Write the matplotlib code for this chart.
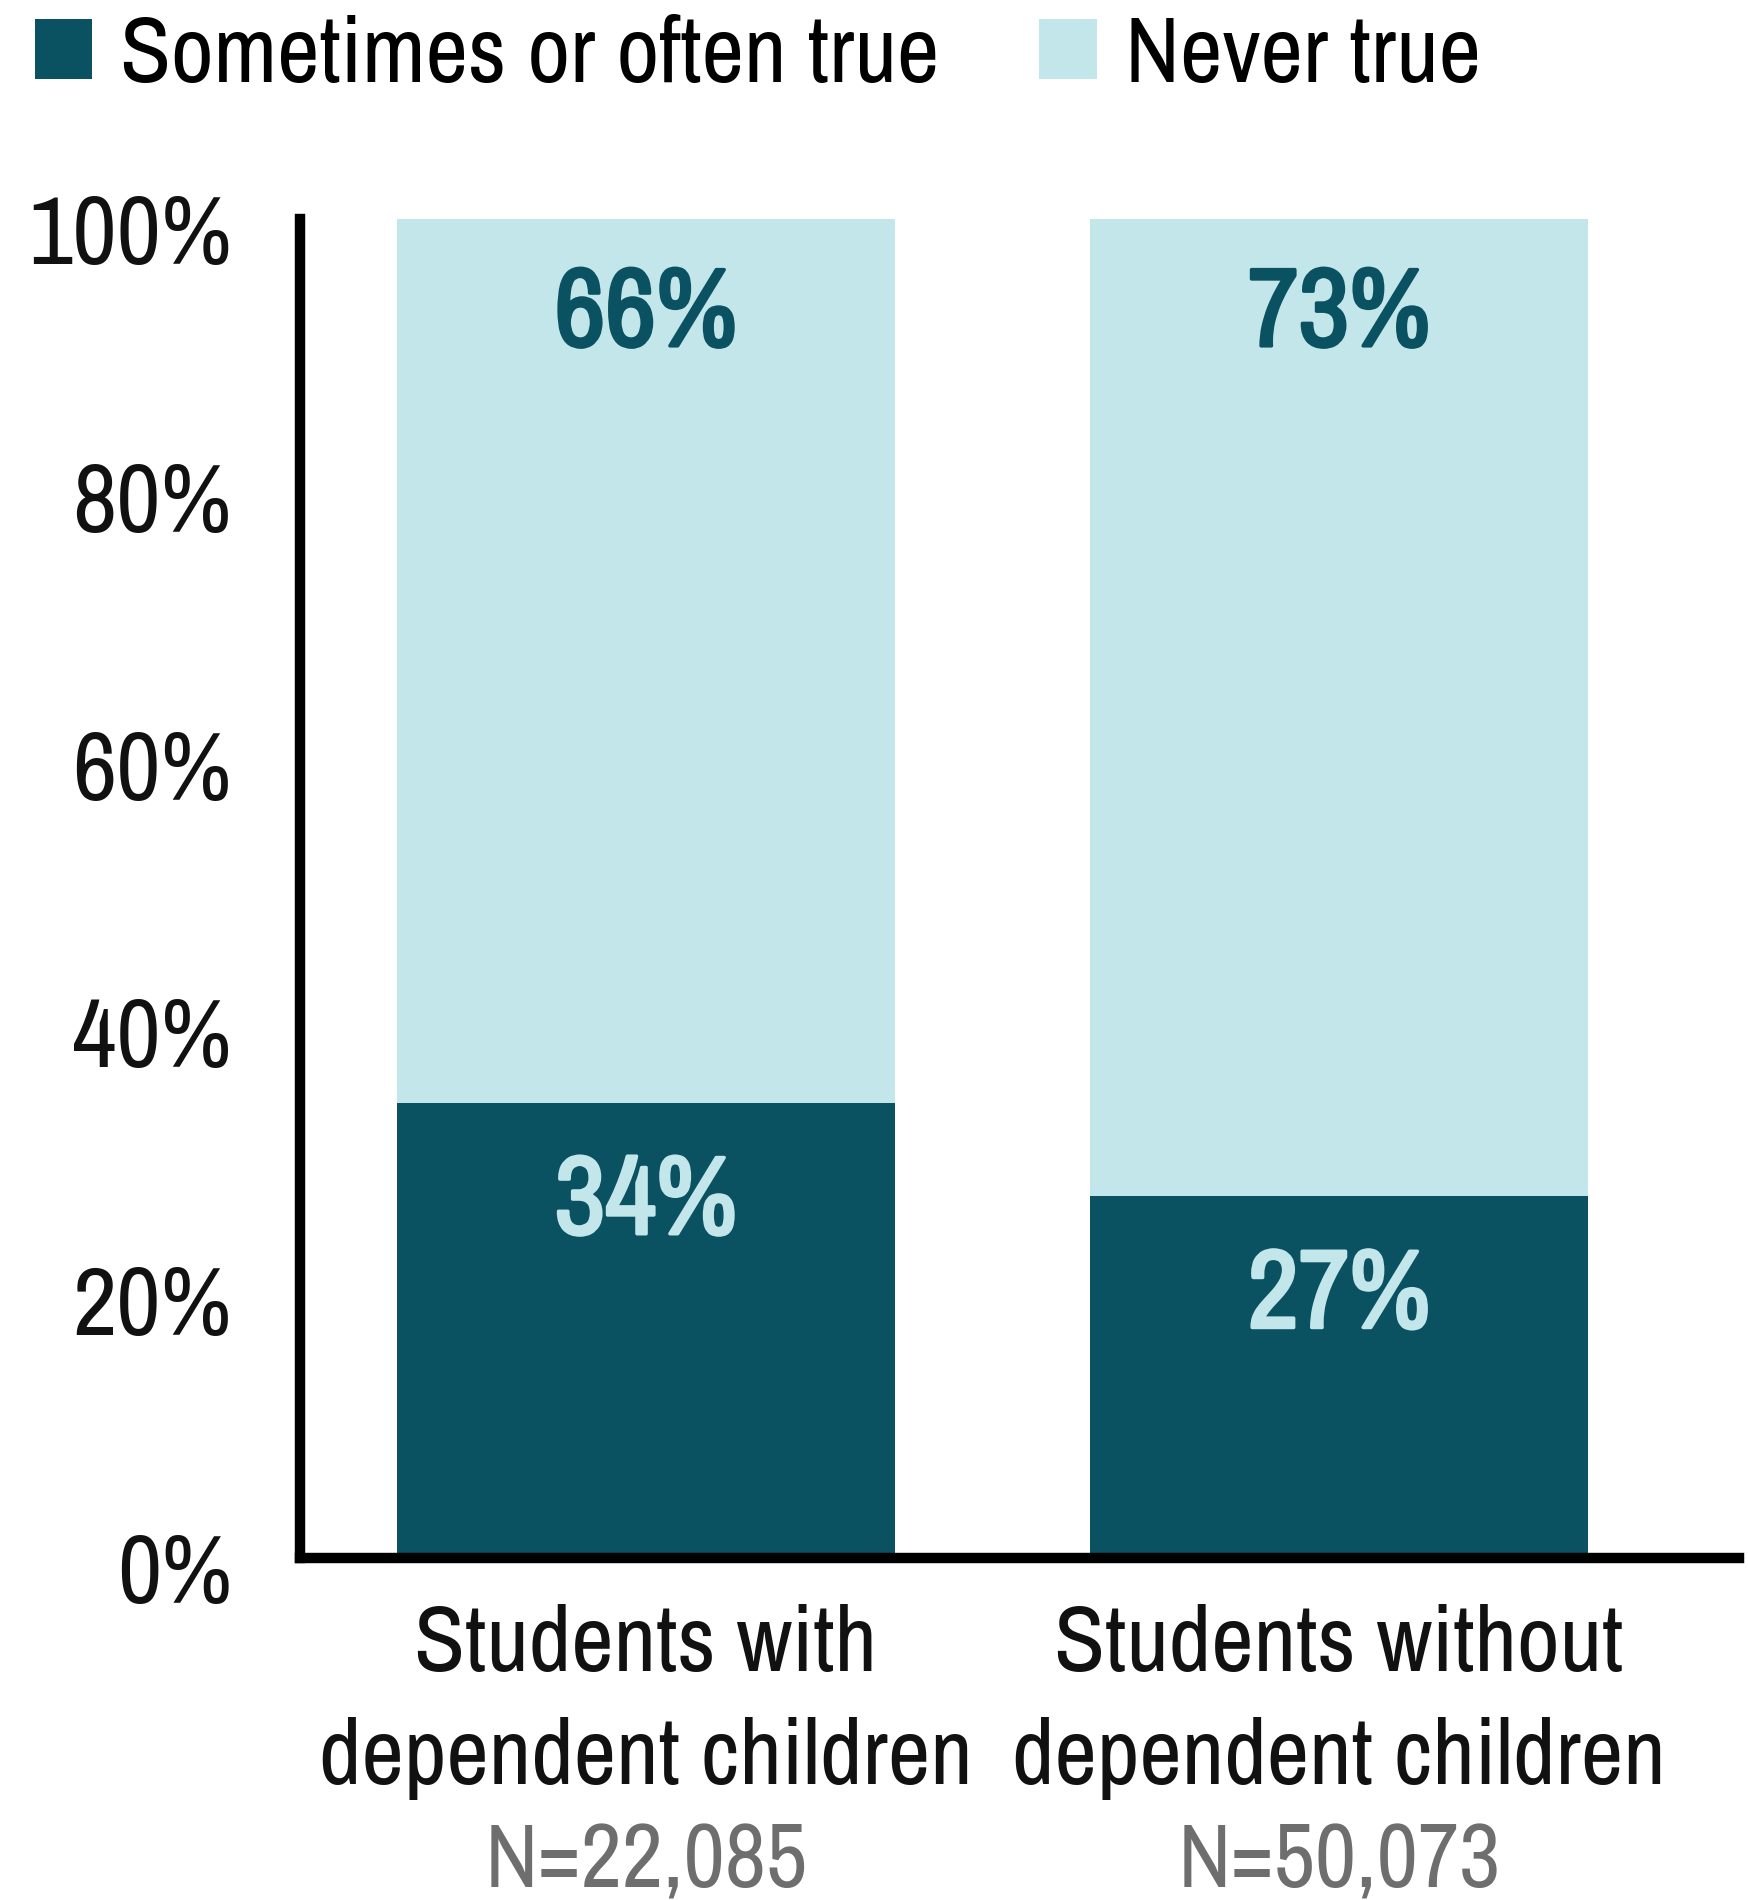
import matplotlib
matplotlib.use("Agg")
import matplotlib.pyplot as plt
from matplotlib.patches import Patch
from matplotlib.transforms import ScaledTranslation
import matplotlib.patheffects as pe

FONT = ['Archivo Narrow', 'DejaVu Sans']
plt.rcParams['font.family'] = FONT

categories = ["Students with\ndependent children", "Students without\ndependent children"]
sample_sizes = ["N=22,085", "N=50,073"]
sometimes_often = [34, 27]
never_true = [66, 73]
series_names = ["Sometimes or often true", "Never true"]
yticks = [0, 20, 40, 60, 80, 100]
ytick_labels = ["0%", "20%", "40%", "60%", "80%", "100%"]

DARK = "#0A5262"
LIGHT = "#C3E6EA"
TXT = "#111111"

fig = plt.figure(figsize=(17.49, 19), dpi=100)
ax = fig.add_axes([300/1749, 1 - 1558/1900, (1739-300)/1749, (1558-219)/1900])

x = list(range(len(categories)))
w = 0.719
ax.bar(x, sometimes_often, width=w, color=DARK, zorder=1)
ax.bar(x, never_true, width=w, bottom=sometimes_often, color=LIGHT, zorder=1)

for i in x:
    top1 = sometimes_often[i]
    ax.annotate(f"{sometimes_often[i]}%", xy=(i, top1), xytext=(0, -72),
                textcoords="offset points", ha="center", va="center",
                fontsize=80, fontweight="bold", color=LIGHT,
                path_effects=[pe.withStroke(linewidth=2.5, foreground=LIGHT)])
    top2 = sometimes_often[i] + never_true[i]
    ax.annotate(f"{never_true[i]}%", xy=(i, top2), xytext=(0, -69),
                textcoords="offset points", ha="center", va="center",
                fontsize=80, fontweight="bold", color=DARK,
                path_effects=[pe.withStroke(linewidth=2.5, foreground=DARK)])
    ax.annotate(sample_sizes[i], xy=(i, 0), xycoords=("data", "axes fraction"),
                xytext=(0, -237.5), textcoords="offset points", ha="center",
                va="baseline", fontsize=65, color="#6E6E6E", annotation_clip=False)

ax.set_xlim(-0.499, 1.577)
ax.set_ylim(0, 100)
ax.set_yticks(yticks)
ax.set_yticklabels(ytick_labels, fontsize=70, color=TXT)
ax.set_xticks(x)
ax.set_xticklabels(categories, fontsize=67, color=TXT, linespacing=1.45)
ax.tick_params(axis="y", length=0, pad=49)
ax.tick_params(axis="x", length=0, pad=33)
for lab in ax.get_yticklabels():
    lab.set_transform(lab.get_transform() + ScaledTranslation(0, -0.10, fig.dpi_scale_trans))

for s in ["top", "right"]:
    ax.spines[s].set_visible(False)
for s in ["left", "bottom"]:
    ax.spines[s].set_linewidth(7.5)
    ax.spines[s].set_color("black")
    ax.spines[s].set_zorder(3)
    ax.spines[s].set_capstyle("projecting")

handles = [Patch(facecolor=DARK, edgecolor="none"), Patch(facecolor=LIGHT, edgecolor="none")]
fig.legend(handles, series_names, loc="upper left", bbox_to_anchor=(16/1749, 1 + 4/1900),
           ncol=2, frameon=False, fontsize=67, handlelength=0.62, handleheight=0.62,
           handletextpad=0.3, columnspacing=1.07, borderaxespad=0, borderpad=0.2)

fig.savefig("out.png", dpi=100)
